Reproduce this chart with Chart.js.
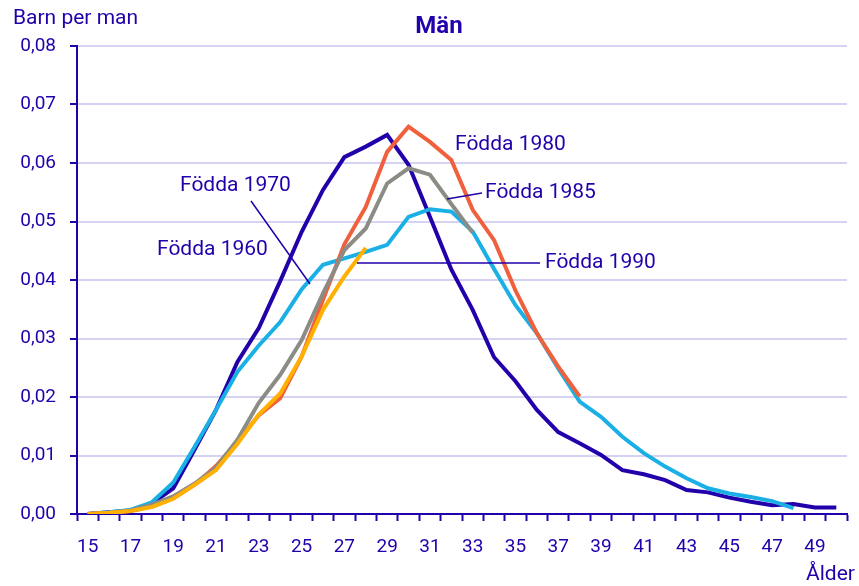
<!DOCTYPE html>
<html>
<head>
<meta charset="utf-8">
<script src="https://cdn.jsdelivr.net/npm/chart.js@4"></script>
<style>
  body { margin: 0; background: #fff; }
  #wrap { width: 859px; height: 586px; }
</style>
</head>
<body>
<div id="wrap"><canvas id="grafico"></canvas></div>
<script>
// Ålder 15..50
var alder = [15,16,17,18,19,20,21,22,23,24,25,26,27,28,29,30,31,32,33,34,35,36,37,38,39,40,41,42,43,44,45,46,47,48,49,50];

// Barn per man, per ålder (från 15 år)
var fodda1960 = [0,0.0003,0.0006,0.0018,0.0044,0.011,0.0178,0.026,0.0318,0.0398,0.0482,0.0554,0.061,0.0628,0.0648,0.0597,0.0508,0.0418,0.0349,0.0268,0.0227,0.0178,0.014,0.0121,0.0101,0.0075,0.0068,0.0058,0.0041,0.0037,0.0028,0.0021,0.0015,0.0017,0.0011,0.0011];
var fodda1970 = [0,0.0003,0.0007,0.002,0.0054,0.0115,0.0178,0.0243,0.0288,0.0328,0.0384,0.0426,0.0437,0.0448,0.046,0.0508,0.0521,0.0517,0.0483,0.0419,0.0357,0.0309,0.0249,0.0192,0.0166,0.0132,0.0104,0.0081,0.0061,0.0044,0.0035,0.0029,0.0022,0.001];
var fodda1980 = [0,0.0002,0.0005,0.0013,0.0027,0.005,0.0082,0.0124,0.0169,0.0198,0.0269,0.0366,0.0461,0.0525,0.0619,0.0662,0.0636,0.0605,0.052,0.0468,0.0382,0.0309,0.0252,0.0201];
var fodda1985 = [0,0.0002,0.0006,0.0016,0.003,0.0052,0.0079,0.0127,0.019,0.0238,0.0297,0.0377,0.0451,0.0488,0.0565,0.0591,0.058,0.053,0.0481];
var fodda1990 = [0,0.0002,0.0005,0.0012,0.0026,0.005,0.0075,0.012,0.017,0.0206,0.0269,0.0349,0.0406,0.0455];

var BLA = "#2200aa";

// Texter och pekare i diagrammet
var etiketter = {
  id: "etiketter",
  afterDraw: function (chart) {
    var ctx = chart.ctx;
    ctx.save();
    ctx.fillStyle = BLA;
    ctx.textBaseline = "middle";
    ctx.font = "bold 24px Roboto";
    ctx.textAlign = "center";
    ctx.fillText("Män", 439, 27);
    ctx.font = "21px Roboto";
    ctx.textAlign = "left";
    ctx.fillText("Barn per man", 13, 19);
    ctx.fillText("Ålder", 806, 575);
    ctx.fillText("Födda 1970", 180, 186);
    ctx.fillText("Födda 1960", 157, 250);
    ctx.fillText("Födda 1980", 455, 145);
    ctx.fillText("Födda 1985", 485, 193);
    ctx.fillText("Födda 1990", 545, 263);
    ctx.strokeStyle = BLA;
    ctx.lineWidth = 1.5;
    ctx.beginPath();
    ctx.moveTo(251, 201); ctx.lineTo(310, 284);
    ctx.moveTo(447, 199); ctx.lineTo(482, 193);
    ctx.moveTo(357, 263); ctx.lineTo(540, 263);
    ctx.stroke();
    ctx.restore();
  }
};

function serie(namn, data, farg) {
  return {
    label: namn,
    data: data,
    borderColor: farg,
    backgroundColor: farg,
    borderWidth: 4,
    pointRadius: 0,
    tension: 0,
    fill: false
  };
}

var ctx = document.getElementById("grafico").getContext("2d");
var config = {
  type: "line",
  data: {
    labels: alder,
    datasets: [
      serie("Födda 1990", fodda1990, "#ffb000"),
      serie("Födda 1985", fodda1985, "#8c8c86"),
      serie("Födda 1980", fodda1980, "#f0603c"),
      serie("Födda 1970", fodda1970, "#1ab0e6"),
      serie("Födda 1960", fodda1960, BLA)
    ]
  },
  options: {
    responsive: true,
    maintainAspectRatio: false,
    animation: false,
    layout: { padding: { top: 46, right: 12, left: 0, bottom: 0 } },
    plugins: {
      legend: { display: false },
      tooltip: { enabled: false }
    },
    scales: {
      x: {
        type: "category",
        offset: true,
        afterFit: function (s) { s.height = 72; },
        grid: {
          offset: true,
          drawOnChartArea: false,
          tickLength: 7,
          tickColor: BLA,
          tickWidth: 2
        },
        border: { color: BLA, width: 2 },
        ticks: {
          autoSkip: false,
          maxRotation: 0,
          color: BLA,
          font: { family: "Roboto", size: 19 },
          padding: 15,
          callback: function (v, i) {
            var a = alder[i];
            return a % 2 === 1 ? String(a) : "";
          }
        }
      },
      y: {
        min: 0,
        max: 0.08,
        afterFit: function (s) { s.width = 77; },
        grid: {
          color: "#d4d4f2",
          lineWidth: 2,
          tickLength: 7,
          tickColor: BLA,
          tickWidth: 2
        },
        border: { color: BLA, width: 2 },
        ticks: {
          stepSize: 0.01,
          color: BLA,
          font: { family: "Roboto", size: 19 },
          padding: 14,
          callback: function (v) { return v.toFixed(2).replace(".", ","); }
        }
      }
    }
  },
  plugins: [etiketter]
};

var grafico = new Chart(ctx, config);
</script>
</body>
</html>
